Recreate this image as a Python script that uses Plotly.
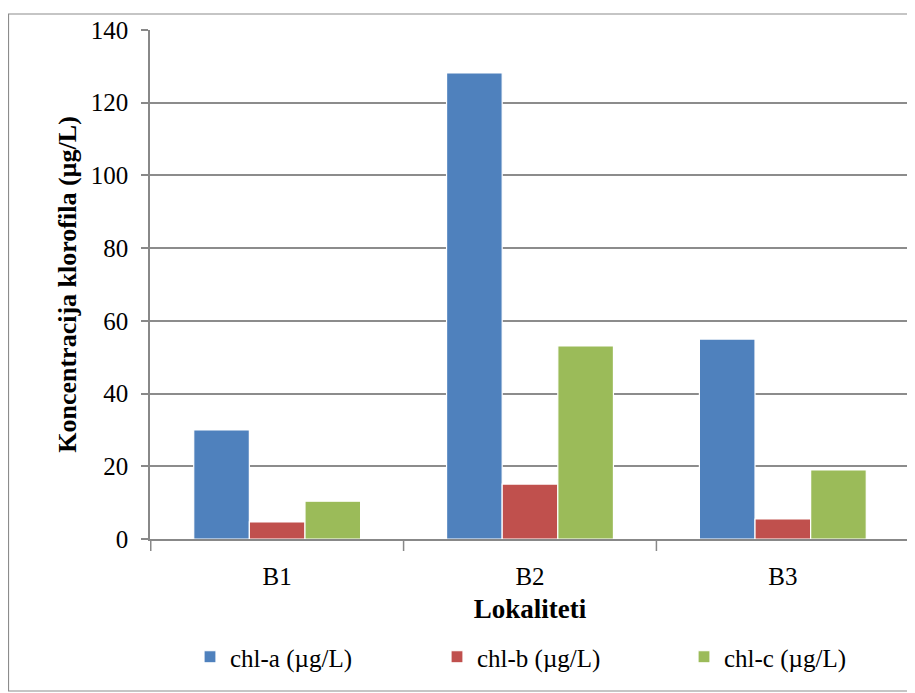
import plotly.graph_objects as go

categories = ["B1", "B2", "B3"]
chl_a = [30.0, 128.2, 55.0]
chl_b = [4.7, 15.1, 5.5]
chl_c = [10.4, 53.1, 19.0]
series_names = ["chl-a (µg/L)", "chl-b (µg/L)", "chl-c (µg/L)"]
colors = ["#4F81BD", "#C0504D", "#9BBB59"]
y_ticks = [0, 20, 40, 60, 80, 100, 120, 140]

FONT = "Liberation Serif, Times New Roman, serif"

fig = go.Figure()
for name, vals, col in zip(series_names, [chl_a, chl_b, chl_c], colors):
    fig.add_trace(go.Bar(
        x=categories, y=vals, name=name,
        marker=dict(color=col, line=dict(color="white", width=1.2)),
    ))

# page body has an 8px margin, so the figure is laid out 8px smaller
OFF = 8
W, H = 915 - OFF, 693 - OFF
L, R, T, B = 150 - OFF, 5, 30 - OFF, 154
pw = W - L - R
ph = H - T - B

fig.update_layout(
    width=W, height=H,
    margin=dict(l=L, r=R, t=T, b=B, autoexpand=False),
    paper_bgcolor="white", plot_bgcolor="white",
    barmode="group", bargap=0.34, bargroupgap=0.0,
    font=dict(family=FONT, size=25, color="black"),
    showlegend=True,
    legend=dict(
        orientation="h", x=(182 - L) / pw, xanchor="left",
        y=(H - (657 - OFF) - B) / ph, yanchor="middle",
        font=dict(family=FONT, size=25, color="black"),
        entrywidth=202, entrywidthmode="pixels",
        traceorder="normal",
    ),
    xaxis=dict(
        automargin=False,
        showline=True, linecolor="#888888", linewidth=1.5,
        ticks="", showgrid=False,
        ticklabelstandoff=14,
        tickfont=dict(family=FONT, size=25),
        title=dict(text="<b>Lokaliteti</b>", font=dict(family=FONT, size=27), standoff=10),
    ),
    yaxis=dict(
        automargin=False,
        range=[0, 140], tickvals=y_ticks,
        showline=True, linecolor="#888888", linewidth=1.5,
        ticks="outside", ticklen=7, tickcolor="#888888", tickwidth=1.5,
        showgrid=True, gridcolor="#8c8c8c", gridwidth=1.5,
        zeroline=False,
        ticklabelstandoff=8,
        tickfont=dict(family=FONT, size=25),
        title=dict(text="<b>Koncentracija klorofila (µg/L)</b>", font=dict(family=FONT, size=26), standoff=7),
    ),
)

# category boundary ticks on x axis (drawn in axis coordinates)
for xb in [-0.5, 0.5, 1.5, 2.5]:
    fig.add_shape(type="line", xref="x", yref="paper", x0=xb, x1=xb, y0=0, y1=-12 / ph,
                  line=dict(color="#888888", width=1.5))

# outer chart border
fig.add_shape(type="rect", xref="paper", yref="paper",
              x0=(8 - OFF + 0.5 - L) / pw, x1=(913 - OFF - L) / pw,
              y0=(H - (691 - OFF) - B) / ph, y1=(H - (14 - OFF) - B) / ph,
              line=dict(color="#8c8c8c", width=1.2), layer="below")

fig.write_html("out.html")
